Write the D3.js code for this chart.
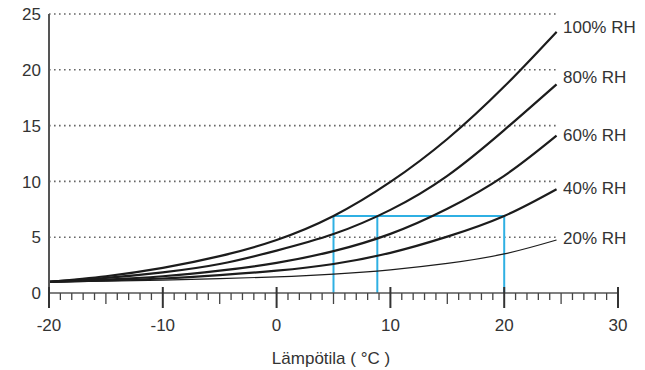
<!DOCTYPE html>
<html>
<head>
<meta charset="utf-8">
<script src="https://cdn.jsdelivr.net/npm/d3@7"></script>
<style>
  html, body { margin: 0; padding: 0; background: #fff; }
  svg text { font-family: "Liberation Sans", Arial, sans-serif; fill: #333; }
</style>
</head>
<body>
<svg id="chart" width="645" height="370"></svg>
<script>
// ---- data ----
const temps = [-20, -15, -10, -5, 0, 5, 10, 15, 20, 24.6];
const rh100 = [1.0, 1.5, 2.25, 3.3, 4.75, 6.9, 9.95, 13.8, 18.5, 23.4];
const rh80  = [1.0, 1.35, 1.85, 2.6, 3.8, 5.28, 7.45, 10.5, 14.6, 18.7];
const rh60  = [1.0, 1.2, 1.5, 2.0, 2.7, 3.75, 5.3, 7.55, 10.5, 14.1];
const rh40  = [1.0, 1.12, 1.3, 1.6, 2.0, 2.6, 3.6, 5.05, 6.9, 9.3];
const rh20  = [1.0, 1.06, 1.15, 1.28, 1.45, 1.7, 2.08, 2.65, 3.5, 4.75];
const seriesLabels = ["100% RH", "80% RH", "60% RH", "40% RH", "20% RH"];
const xTicks = [-20, -10, 0, 10, 20, 30];
const yTicks = [0, 5, 10, 15, 20, 25];
const markerLevel = 6.9;
const markerTemps = [5, 8.85, 20];
const xTitle = "Lämpötila ( °C )";

// ---- layout ----
const svg = d3.select("#chart");
const x = d3.scaleLinear().domain([-20, 30]).range([49, 618]);
const y = d3.scaleLinear().domain([0, 25]).range([293, 14]);
const fs = 17;
const mid = 6.1;

const allSeries = [rh100, rh80, rh60, rh40, rh20];
const widths = [2.2, 2.2, 2.2, 2.2, 1.2];
const labelDy = [-5, -7, -1, -1, -2];

// gridlines (dotted)
svg.append("g").selectAll("line").data(yTicks.filter(d => d > 0)).join("line")
  .attr("x1", x(-20)).attr("x2", x(24.6))
  .attr("y1", d => y(d)).attr("y2", d => y(d))
  .attr("stroke", "#666").attr("stroke-width", 1.6)
  .attr("stroke-dasharray", "1.6,3.4");

// y tick labels
svg.append("g").selectAll("text").data(yTicks).join("text")
  .attr("x", 41).attr("y", d => y(d) + mid)
  .attr("text-anchor", "end").attr("font-size", fs)
  .text(d => d);

// blue marker lines
const blue = "#2fb0e3";
const bg = svg.append("g");
bg.append("line")
  .attr("x1", x(markerTemps[0])).attr("x2", x(markerTemps[2]))
  .attr("y1", y(markerLevel)).attr("y2", y(markerLevel))
  .attr("stroke", blue).attr("stroke-width", 2);
bg.selectAll(".v").data(markerTemps).join("line")
  .attr("x1", d => x(d)).attr("x2", d => x(d))
  .attr("y1", y(markerLevel)).attr("y2", y(0))
  .attr("stroke", blue).attr("stroke-width", 2);

// curves
const line = d3.line()
  .x((d, i) => x(temps[i]))
  .y(d => y(d))
  .curve(d3.curveNatural);
svg.append("g").selectAll("path").data(allSeries).join("path")
  .attr("d", d => line(d))
  .attr("fill", "none")
  .attr("stroke", "#1c1c1c")
  .attr("stroke-width", (d, i) => widths[i]);

// curve labels
svg.append("g").selectAll("text").data(allSeries).join("text")
  .attr("x", 563)
  .attr("y", (d, i) => y(d[d.length - 1]) + labelDy[i] + mid)
  .attr("font-size", fs)
  .text((d, i) => seriesLabels[i]);

// axes
const ax = svg.append("g");
ax.append("line").attr("x1", x(-20)).attr("x2", x(-20))
  .attr("y1", y(25)).attr("y2", 307)
  .attr("stroke", "#555").attr("stroke-width", 2);
ax.append("line").attr("x1", x(-20)).attr("x2", x(30))
  .attr("y1", y(0)).attr("y2", y(0))
  .attr("stroke", "#555").attr("stroke-width", 1.6);
const minor = d3.range(-20, 31, 1).filter(d => d % 10 !== 0);
ax.selectAll(".mt").data(minor).join("line")
  .attr("x1", d => x(d)).attr("x2", d => x(d))
  .attr("y1", y(0)).attr("y2", d => d % 5 === 0 ? 304 : 300)
  .attr("stroke", "#444").attr("stroke-width", 1.3);
ax.selectAll(".Mt").data(xTicks).join("line")
  .attr("x1", d => x(d)).attr("x2", d => x(d))
  .attr("y1", 287).attr("y2", 308)
  .attr("stroke", "#333").attr("stroke-width", 2);
ax.selectAll("text").data(xTicks).join("text")
  .attr("x", d => x(d)).attr("y", 331)
  .attr("text-anchor", "middle").attr("font-size", fs)
  .text(d => d);

// axis title
svg.append("text").attr("x", 331).attr("y", 364)
  .attr("text-anchor", "middle").attr("font-size", fs)
  .text(xTitle);
</script>
</body>
</html>
